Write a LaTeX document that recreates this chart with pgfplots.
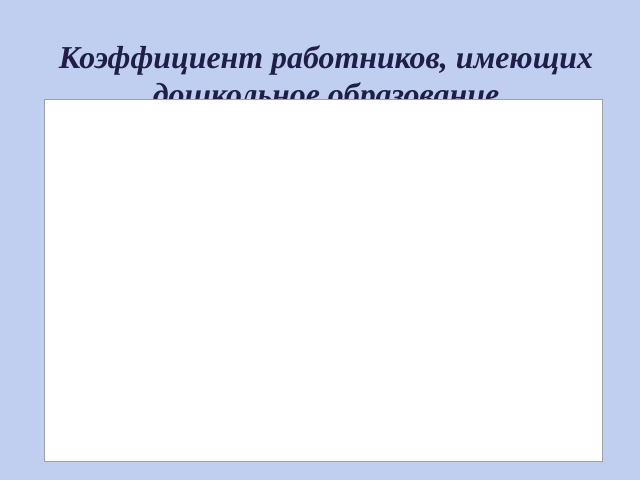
\documentclass[border=0pt]{standalone}
\usepackage{pgfplots}
\pgfplotsset{compat=1.18}
\usepackage{fontspec}
\setmainfont{Liberation Serif}

\definecolor{slidebg}{RGB}{192,207,240}
\definecolor{titleblue}{RGB}{30,30,72}
\definecolor{frame}{RGB}{160,160,168}

\begin{document}
\begin{tikzpicture}[x=1bp,y=1bp]
  % slide background
  \fill[slidebg] (0,0) rectangle (640,480);
  \useasboundingbox (0,0) rectangle (640,480);

  % title, second line is half hidden by the chart box
  \node[text=titleblue,font=\fontsize{32}{38}\selectfont\bfseries\itshape,
        align=center,anchor=base] at (326,374)
        {Коэффициент работников, имеющих\\дошкольное образование};

  % empty chart area
  \begin{axis}[
      at={(44bp,19bp)}, anchor=south west,
      scale only axis,
      width=558bp, height=362bp,
      xmin=0, xmax=1, ymin=0, ymax=1,
      xtick=\empty, ytick=\empty,
      axis line style={frame},
      axis background/.style={fill=white},
    ]
  \end{axis}
\end{tikzpicture}
\end{document}
